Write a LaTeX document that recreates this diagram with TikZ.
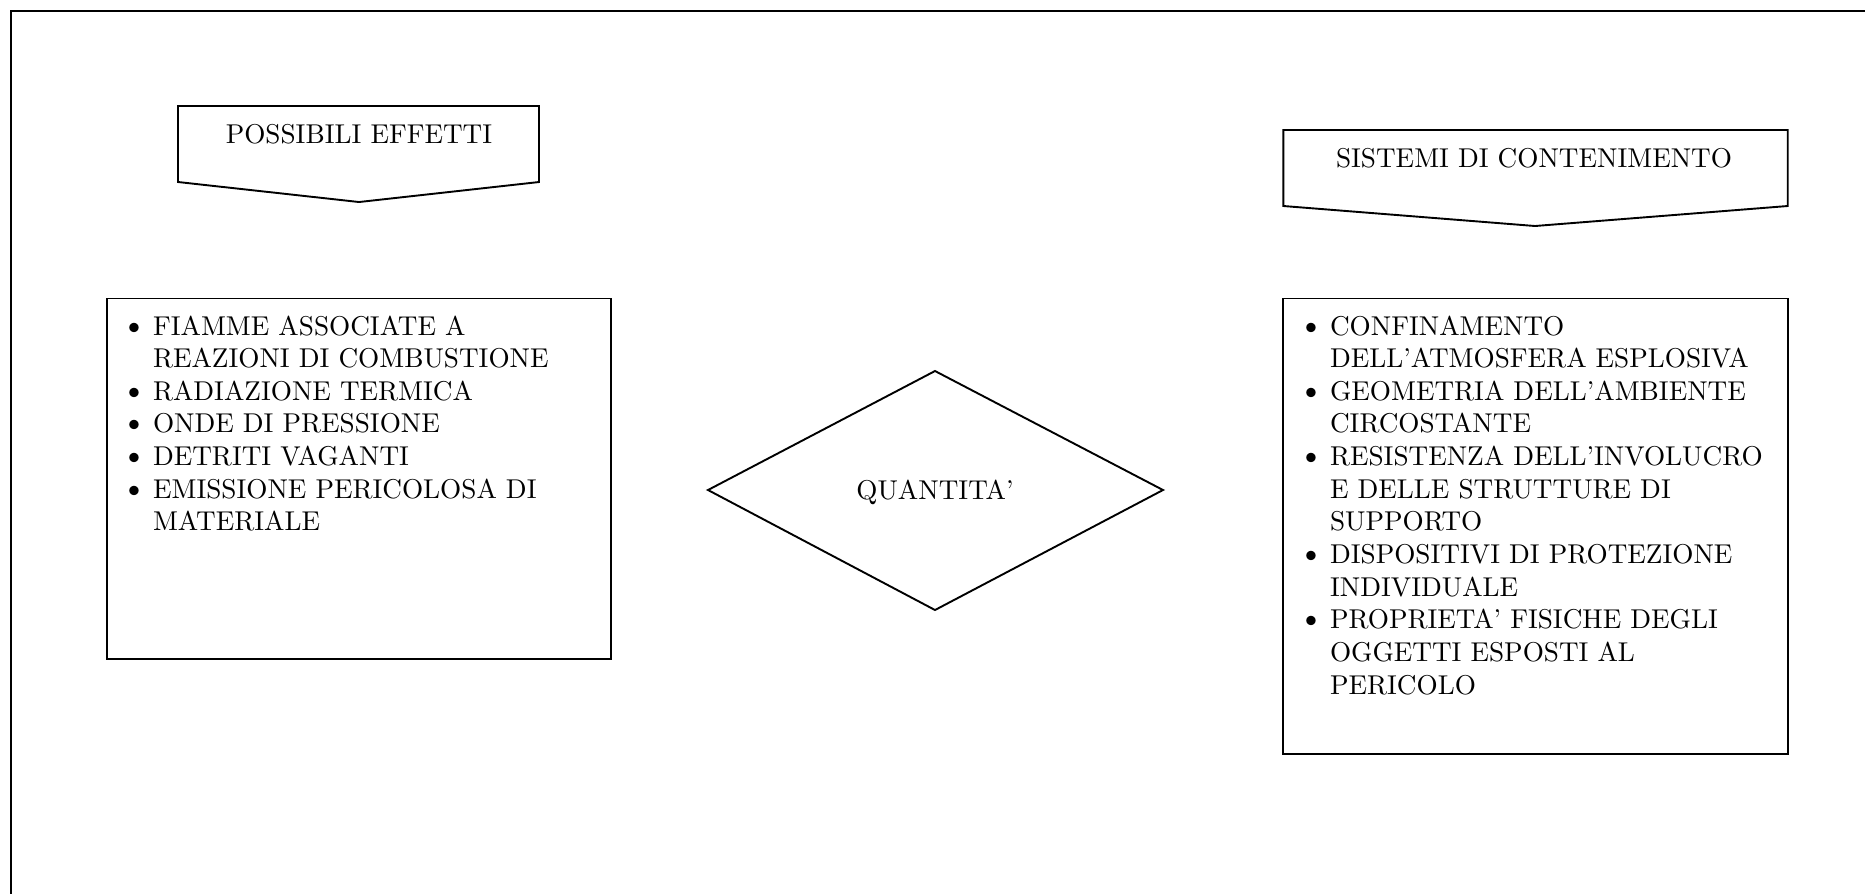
\documentclass[tikz,border=0pt]{standalone}
\usepackage{fontspec}
\usepackage{graphicx}
\newcommand\bl{\makebox[14pt]{\scalebox{1.2}{\textbullet}}}
\begin{document}
\begin{tikzpicture}[x=0.3676pt,y=-0.3676pt,line width=0.7pt,
  txt/.style={inner sep=0pt,font=\fontsize{10}{12}\selectfont}]
\useasboundingbox (0,0) rectangle (1865,894);
% outer frame (only top and left visible)
\draw (1865,10.7) -- (10.7,10.7) -- (10.7,894);
% left title pentagon
\coordinate (p1a) at (178,106); \coordinate (p1b) at (539,106);
\coordinate (p1c) at (539,182); \coordinate (p1d) at (359,202);
\coordinate (p1e) at (178,182);
\draw (p1a) -- (p1b) -- (p1c) -- (p1d) -- (p1e) -- cycle;
\node[txt,anchor=base] (t1) at (359,143) {POSSIBILI EFFETTI};
% right title pentagon
\coordinate (p2a) at (1283.4,130); \coordinate (p2b) at (1787.7,130);
\coordinate (p2c) at (1787.7,206); \coordinate (p2d) at (1535,226);
\coordinate (p2e) at (1283.4,206);
\draw (p2a) -- (p2b) -- (p2c) -- (p2d) -- (p2e) -- cycle;
\node[txt,anchor=base] (t2) at (1534,167) {SISTEMI DI CONTENIMENTO};
% boxes
\draw (107,298.5) rectangle (611.4,659);
\draw (1283.4,298.5) rectangle (1787.7,754);
% diamond
\coordinate (dl) at (708,490); \coordinate (dt) at (935,371);
\coordinate (dr) at (1163,490); \coordinate (db) at (935,610);
\draw (dl) -- (dt) -- (dr) -- (db) -- cycle;
\node[txt,anchor=base] (q) at (935,499) {QUANTITA'};
% lists
\node[txt,anchor=base west] (l1) at (114,335) {\begin{tabular}[t]{@{}l@{}l@{}}
\bl & FIAMME ASSOCIATE A\\
 & REAZIONI DI COMBUSTIONE\\
\bl & RADIAZIONE TERMICA\\
\bl & ONDE DI PRESSIONE\\
\bl & DETRITI VAGANTI\\
\bl & EMISSIONE PERICOLOSA DI\\
 & MATERIALE
\end{tabular}};
\node[txt,anchor=base west] (l2) at (1291,335) {\begin{tabular}[t]{@{}l@{}l@{}}
\bl & CONFINAMENTO\\
 & DELL'ATMOSFERA ESPLOSIVA\\
\bl & GEOMETRIA DELL'AMBIENTE\\
 & CIRCOSTANTE\\
\bl & RESISTENZA DELL'INVOLUCRO\\
 & E DELLE STRUTTURE DI\\
 & SUPPORTO\\
\bl & DISPOSITIVI DI PROTEZIONE\\
 & INDIVIDUALE\\
\bl & PROPRIETA' FISICHE DEGLI\\
 & OGGETTI ESPOSTI AL\\
 & PERICOLO
\end{tabular}};
\end{tikzpicture}
\end{document}
